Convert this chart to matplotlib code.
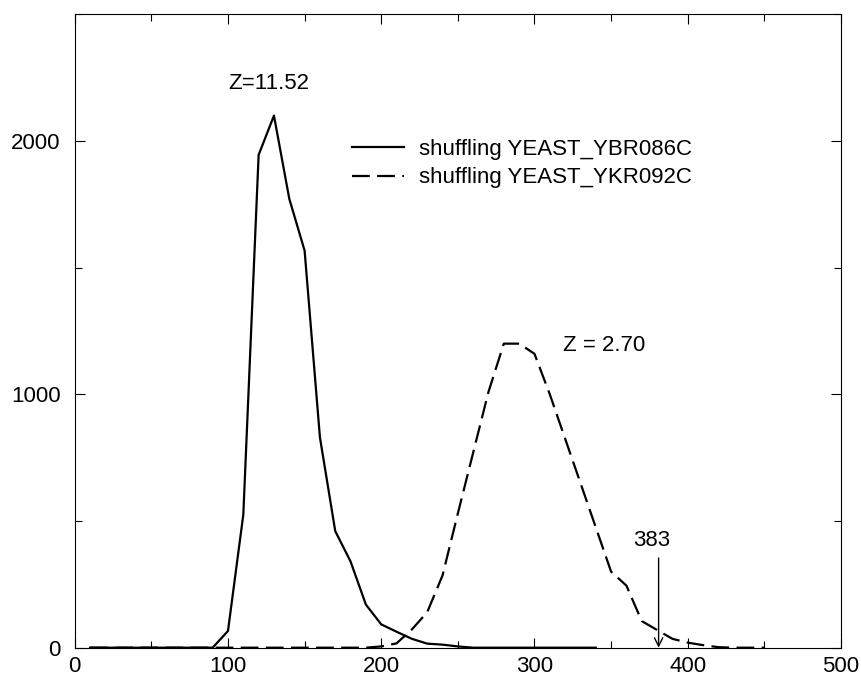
import numpy as np
import matplotlib
matplotlib.use("Agg")
import matplotlib.pyplot as plt
from matplotlib.ticker import MultipleLocator

# score bins (step 10)
x_solid = np.arange(10, 350, 10)
y_solid = [0, 0, 0, 0, 0, 0, 0, 0, 0,
           66, 525, 1945, 2100, 1772, 1567, 830, 460, 340, 170,
           92, 63, 35, 16, 12, 5, 0, 0, 0, 0, 0, 0, 0, 0, 0]

x_dash = np.arange(10, 460, 10)
y_dash = [0] * 19 + [5, 17, 72, 140, 285, 530, 770, 1010, 1200, 1200,
                     1160, 1000, 825, 650, 475, 300, 245, 105, 70, 35,
                     20, 10, 2, 0, 0, 0]

label_solid = "shuffling YEAST_YBR086C"
label_dash = "shuffling YEAST_YKR092C"
z_solid = "Z=11.52"
z_dash = "Z = 2.70"
score_mark = 381
score_text = "383"

plt.rcParams['font.family'] = ['Liberation Sans', 'DejaVu Sans']
FS = 16

fig = plt.figure(figsize=(8.62, 6.77), dpi=100)
ax = fig.add_axes([0.0867, 0.0433, 0.8889, 0.9356])

ax.plot(x_solid, y_solid, color='black', lw=1.6, label=label_solid)
ax.plot(x_dash, y_dash, color='black', lw=1.6, linestyle=(0, (8, 3.3)),
        label=label_dash)

ax.set_xlim(0, 500)
ax.set_ylim(0, 2500)
ax.xaxis.set_major_locator(MultipleLocator(100))
ax.xaxis.set_minor_locator(MultipleLocator(50))
ax.yaxis.set_major_locator(MultipleLocator(1000))
ax.yaxis.set_minor_locator(MultipleLocator(500))
ax.tick_params(which='both', direction='in', top=True, right=True,
               labelsize=FS, width=0.8)
ax.tick_params(which='major', length=7)
ax.tick_params(which='minor', length=5)
ax.tick_params(axis='x', pad=6)
ax.tick_params(axis='y', pad=10)
for s in ax.spines.values():
    s.set_linewidth(0.8)

ax.text(126.7, 2226, z_solid, ha='center', va='center', fontsize=FS)
ax.text(318.3, 1194, z_dash, ha='left', va='center', fontsize=FS)
ax.text(376.4, 425, score_text, ha='center', va='center', fontsize=FS)
ax.annotate('', xy=(score_mark, 0), xytext=(score_mark, 354),
            arrowprops=dict(arrowstyle='->', lw=1.0, color='black',
                            shrinkA=0, shrinkB=0, mutation_scale=15))

ax.legend(loc='upper left', bbox_to_anchor=(0.362, 0.803), frameon=False,
          fontsize=FS, borderpad=0, borderaxespad=0, handlelength=2.35,
          handletextpad=0.65, labelspacing=0.33)

fig.savefig("out.png", dpi=100)
